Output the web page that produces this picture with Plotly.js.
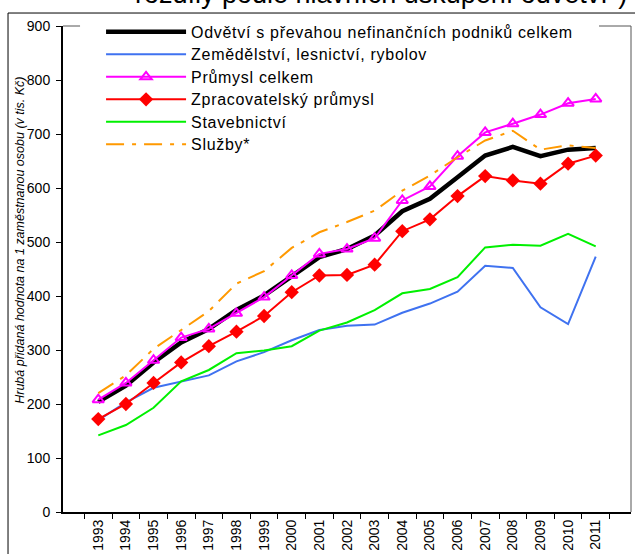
<!DOCTYPE html>
<html>
<head>
<meta charset="utf-8">
<script src="https://cdn.plot.ly/plotly-3.0.1.min.js"></script>
<style>html,body{margin:0;padding:0;background:#fff;}#chart{width:635px;height:554px;}</style>
</head>
<body>
<div id="chart"></div>
<script>
var years = ['1993','1994','1995','1996','1997','1998','1999','2000','2001','2002','2003','2004','2005','2006','2007','2008','2009','2010','2011'];
var seriesNames = ['Odvětví s převahou nefinančních podniků celkem','Zemědělství, lesnictví, rybolov','Průmysl celkem','Zpracovatelský průmysl','Stavebnictví','Služby*'];
var odvetvi = [204,234,277,314,339,374,401,437,472,487,512,557,580,620,660,676,659,671,674];
var zemedelstvi = [170,203,230,242,253,279,296,318,337,345,347,369,386,408,456,452,379,348,473];
var prumysl = [208,239,281,323,339,368,398,438,478,487,507,577,603,659,703,719,736,757,765];
var zpracovatelsky = [172,200,239,277,307,334,363,407,438,439,458,520,542,585,622,614,608,645,660];
var stavebnictvi = [142,161,193,242,263,294,299,307,336,351,374,405,413,435,490,495,493,515,492];
var sluzby = [220,253,302,337,372,423,446,489,518,537,558,595,623,657,688,706,671,679,674];
var titleText = 'rozdíly podle hlavních uskupení odvětví*)';
var yTitle = 'Hrubá přidaná hodnota na 1 zaměstnanou osobu (v tis. Kč)';

var FONT = 'Liberation Sans, Arial, sans-serif';
function lg(s) { return '<span style="font-size:16px;letter-spacing:0.7px">' + s + '</span>'; }
var traces = [
  {x: years, y: odvetvi, name: lg(seriesNames[0]), mode: 'lines', line: {color: '#000000', width: 4.5}},
  {x: years, y: zemedelstvi, name: lg(seriesNames[1]), mode: 'lines', line: {color: '#3F72F0', width: 2}},
  {x: years, y: prumysl, name: lg(seriesNames[2]), mode: 'lines+markers', line: {color: '#FF00FF', width: 2},
   marker: {symbol: 'triangle-up-open', size: 10, color: '#FF00FF', line: {color: '#FF00FF', width: 2}}},
  {x: years, y: zpracovatelsky, name: lg(seriesNames[3]), mode: 'lines+markers', line: {color: '#FF0000', width: 2},
   marker: {symbol: 'diamond', size: 11, color: '#FF0000'}},
  {x: years, y: stavebnictvi, name: lg(seriesNames[4]), mode: 'lines', line: {color: '#00F000', width: 2}},
  {x: years, y: sluzby, name: lg(seriesNames[5]), mode: 'lines', line: {color: '#FF9900', width: 2, dash: '18px,8px,4px,8px'}}
];

var layout = {
  width: 635, height: 554,
  margin: {l: 63, r: 4, t: 26, b: 42, pad: 0},
  paper_bgcolor: '#ffffff', plot_bgcolor: '#ffffff',
  font: {family: FONT, size: 13, color: '#000000'},
  showlegend: true,
  legend: {
    x: 0.067, y: 1.0215, xanchor: 'left', yanchor: 'top',
    bgcolor: 'rgba(0,0,0,0)', borderwidth: 0,
    font: {family: FONT, size: 15, color: '#000000'},
    itemwidth: 80, tracegroupgap: 0
  },
  xaxis: {
    type: 'category', tickangle: -90,
    ticks: 'outside', ticklen: 5, tickcolor: '#000', tickwidth: 1,
    tickson: 'boundaries',
    showline: true, linecolor: '#000', linewidth: 2,
    showgrid: false, zeroline: false,
    tickfont: {family: FONT, size: 14, color: '#000'}
  },
  yaxis: {
    range: [0, 900], dtick: 100, tick0: 0,
    ticks: 'outside', ticklen: 5, tickcolor: '#000', tickwidth: 1,
    ticklabelstandoff: 3,
    showline: true, linecolor: '#000', linewidth: 2,
    showgrid: false, zeroline: false,
    tickfont: {family: FONT, size: 14, color: '#000'}
  },
  shapes: [
    {type: 'line', xref: 'paper', yref: 'paper', x0: 0, x1: 0.03, y0: 1, y1: 1, line: {color: '#555555', width: 1}, layer: 'below'},
    {type: 'line', xref: 'paper', yref: 'paper', x0: 0.9437, x1: 1, y0: 1, y1: 1, line: {color: '#555555', width: 1}, layer: 'below'},
    {type: 'line', xref: 'paper', yref: 'paper', x0: 1, x1: 1, y0: 0, y1: 1, line: {color: '#555555', width: 1}, layer: 'below'},
    {type: 'rect', xref: 'paper', yref: 'paper', x0: -0.0968, x1: 1.2, y0: -0.3, y1: 1.0267, line: {color: '#000000', width: 1}, layer: 'below'}
  ],
  annotations: [
    {text: titleText, xref: 'paper', yref: 'paper', x: 0.1232, y: 1.031, xanchor: 'left', yanchor: 'bottom',
     showarrow: false, font: {family: FONT, size: 27, color: '#000'}},
    {text: '<i>' + yTitle + '</i>', xref: 'paper', yref: 'paper', x: -0.0757, y: 0.558, xanchor: 'center', yanchor: 'middle',
     textangle: -90, showarrow: false, font: {family: FONT, size: 12.5, color: '#000'}}
  ]
};

Plotly.newPlot('chart', traces, layout, {staticPlot: true, displayModeBar: false});
</script>
</body>
</html>
